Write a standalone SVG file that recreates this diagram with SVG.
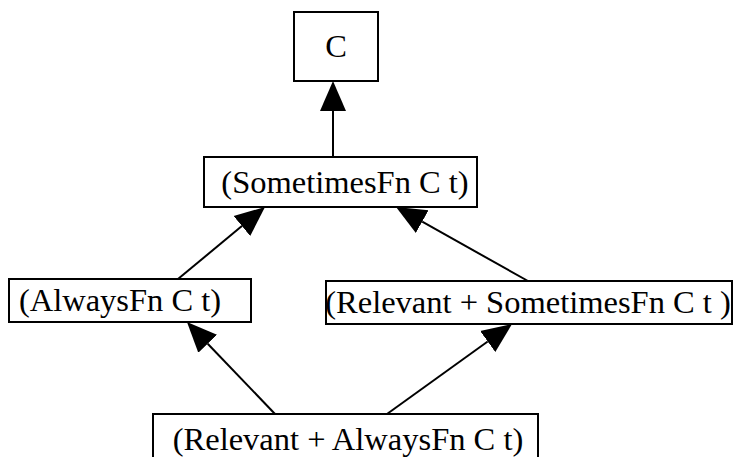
<svg xmlns="http://www.w3.org/2000/svg" width="737" height="457" viewBox="0 0 737 457">
<style>
.box{fill:#fff;stroke:#000;stroke-width:2}
.lbl{font-family:"Liberation Serif","Times New Roman",serif;font-size:32.5px;fill:#000;text-anchor:middle}
.edge{stroke:#000;stroke-width:2;fill:none}
</style>
<defs>
<marker id="ah" markerUnits="userSpaceOnUse" viewBox="0 -14 32 28" refX="0" refY="0" markerWidth="32" markerHeight="28" orient="auto">
<path d="M0,-13 L30,0 L0,13 Z" fill="#000"/>
</marker>
</defs>
<rect width="737" height="457" fill="#fff"/>
<g id="edges">
<line class="edge" x1="333" y1="157" x2="333" y2="111" marker-end="url(#ah)"/>
<line class="edge" x1="178" y1="279" x2="241.9" y2="226.1" marker-end="url(#ah)"/>
<line class="edge" x1="528" y1="281" x2="422.2" y2="221.7" marker-end="url(#ah)"/>
<line class="edge" x1="275" y1="414" x2="207.7" y2="343.7" marker-end="url(#ah)"/>
<line class="edge" x1="387" y1="414" x2="487.7" y2="341.5" marker-end="url(#ah)"/>
</g>
<g id="n_C">
<rect class="box" x="294" y="12" width="84" height="69"/>
<text class="lbl" x="336" y="56.5">C</text>
</g>
<g id="n_Sometimes">
<rect class="box" x="204" y="157" width="273" height="50"/>
<text class="lbl" x="345" y="193">(SometimesFn C t)</text>
</g>
<g id="n_Always">
<rect class="box" x="9" y="279" width="242" height="43"/>
<text class="lbl" x="120" y="310.5">(AlwaysFn C t)</text>
</g>
<g id="n_RelSometimes">
<rect class="box" x="326" y="281" width="406" height="43"/>
<text class="lbl" x="528" y="312.5">(Relevant + SometimesFn C t )</text>
</g>
<g id="n_RelAlways">
<rect class="box" x="153" y="414" width="385" height="50"/>
<text class="lbl" x="348" y="450">(Relevant + AlwaysFn C t)</text>
</g>
</svg>
